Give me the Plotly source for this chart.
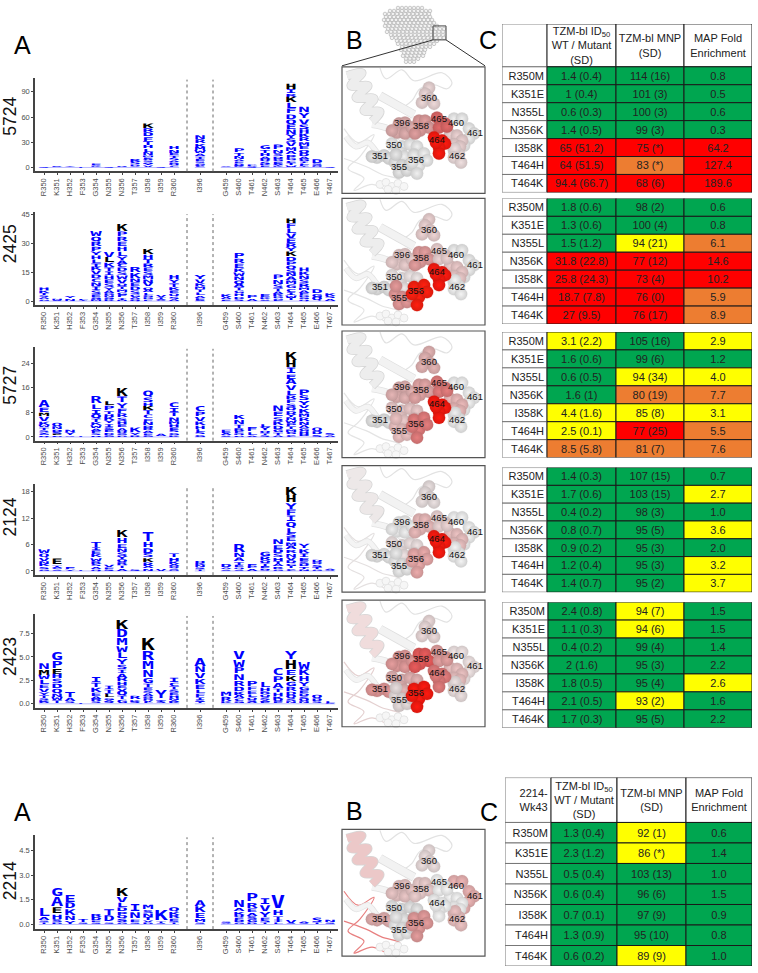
import re

import plotly.graph_objects as go

W, H = 758, 973

sites = ["R350", "K351", "H352", "F353", "G354", "N355", "N356", "T357", "I358", "I359", "R360",
         "I396",
         "G459", "S460", "T461", "N462", "S463", "T464", "T465", "E466", "T467"]
site_slots = [0, 1, 2, 3, 4, 5, 6, 7, 8, 9, 10, 12, 14, 15, 16, 17, 18, 19, 20, 21, 22]
mutants = {"R350": "M", "K351": "E", "N355": "L", "N356": "K", "I358": "K", "T464": "HK"}

# one string per site, letters top to bottom, "ABC2" = A, B, C each 2 tall
logo_5724 = ["S.5", "R.8", "Y1", "L.3", "E2 AK1", "S.3", "D1", "R4 S3 D2 A1",
             "K6 RDFT5 HLN4 MEAS2 QYV2", "S.5", "HN4 ETS3 ADQ2 C2",
             "NR5 KMW4 ATE3 SG2 QLC1",
             "A1", "P5 TN4 AED2 GQK1", "P2 AS.5", "G5 TH4 AQS3 KE2", "P6 NS4 DGE3 A2 TK1",
             "H7 I5 R4 K7 L7 F6 D6 Q6 E6 N6 Y5 S5 V5 M5 A4 P4 G3 C3 T3 W2",
             "N7 Y7 V6 S6 H5 K5 R5 M5 E4 Q4 D4 A3 G3 I2 L2 F2 T1", "D5 S2 G1 N1", "S.3"]
logo_2425 = ["H1.5 K1.5 T1.2 S1 A1 G.8", "N.8 S.6", "Y1.2 N1.2", "L.6 I.4",
             "W3 Q2.5 R2.5 P2.5 Y2 H2 L2 T2 K2 V2 D2 C2 N2 I2 S2 E1.5 G1 M1",
             "V3 L3 K2.5 T2 I2 H2 E2 S2 Y1.5 A1.5 D1 N1 G1 R1",
             "K3.5 P2.6 R2.5 E2.5 H2.5 L2.5 Y2 A2 C2 D2 S2 W2 V2 Q1.5 T1.5 M1.5 G1.5 F1.5 I1 N.6",
             "R3 K3 N2 E2 D2 S2 G1.5 A1 Q1",
             "K3 H2.5 T2.2 R2 E2 S2 M2 N2 V2 Q1.5 A1.5 L1.2 G1.2 D1 F.8",
             "V1.2 T1 A.6 S.5", "H2.4 Y2 T2 K1.7 E1.5 Q1.5 S1.2 A1",
             "Y2.4 V2 K1.6 M1.5 T1.5 L1.5 A1.2 E1 S.6",
             "K1.6 A1.2 E.8", "P3 R2.5 E2.5 K2 W2 N2 Q2 A2 T1.5 G1.5 H1.5 D1.2 S1", "P1.8 A1.2",
             "E1.8 K1 S.8", "P2.6 N2.4 S2 T1.5 A1.5 K1.2 D1 G.8 E.6",
             "H2.6 F2.6 L2.6 V2.6 E2.6 R2.2 Y2.2 K2.6 D2.4 P2 Q2 S2 N2 A2 M2 G2 C1.8 I1.6 W1.5 T1.5",
             "H2 K2 N2 S2 R2 M1.5 A1.5 E1.2 D1 G1 Q.8", "D2.2 G1.8 Q2", "K1.6 S1.2 A1.2"]
logo_5727 = ["A2.2 E1.6 M1.2 V1.6 K1.2 W.8 T.8 S.6 Y.6 G.6 Q.4", "Q1.2 N1 D.8 S.7 E.5 G.4",
             "N.8 Y1 S.3", "L.2", "R2.3 L1.7 I1.5 Q1.5 T1.2 K1 W1 A.8 E.8 S.6 D.4",
             "L1.4 P1.6 T1 H1 K1.2 Y1 I1 S1 E.9 D.7 G.6",
             "K2.7 T2 Y1.8 F1.6 R1.4 S1.2 H1 E1 A1 Q.8 G.6 D.5", "K1.7 Y.8 R.6",
             "Q2 S1.6 H1.2 K1.5 T1.4 C1.3 F1 N1.2 D.8 R.8 A.8 E.6 G.6", "A.8",
             "C1.7 I1.5 T1.4 N1.3 M1 H1 E.9 S.9 G.7 K.6",
             "C1.8 P1.6 V1.5 K1.3 H1.2 L1 S.8 G.7",
             "E1.2 A.7 S.5", "K1.5 N1.5 T1.2 R1 E.8 Q.6 G.4", "F1.5 L1 A.5", "L1 Y1.2 Q.8 T.6 S.6",
             "N2 E1.6 S1.4 K1.4 D1.2 G1 T.8 A.6",
             "K2.7 H2.3 I2 E1.6 A2 V1.8 L1.6 R1.3 F1.3 S1.2 Q1.1 D1 Y1.1 N1 W1 P1 T.9 M.9 G.8 C.7",
             "P2 S1.7 Y1.5 V1 K1.5 M1.3 R1.3 N1.2 A1 G1 H1 D.8", "Q1.3 D1 S.7", "S.7 A.6"]
logo_2124 = ["W1 Q.9 V.8 N.7 K.6 S.5 G.4", "E1.4 T.3 A.3 G.3 S.3", "F.5 Y.3", "L.1",
             "T1.3 I.7 E.9 K.8 W.7 R.7 S.6 A.5 Q.4", "V.6 E.4 S.4",
             "K1.7 H1.3 E1 N.9 S.9 Y.8 Q.7 R.7 T.6 A.5", "S.4",
             "T2.2 H1.3 D1.2 S1 K1 R.9 A.5 N.5", "V.5", "T.9 H.8 K.7 A.5 Q.5 S.3 N.2",
             "H.5 K.5 N.5 S.4 T.4",
             "D.8 A.4 S.3", "R2 N1.1 A.9 T.7 E.6 Q.4 S.3", "F.5 P.5 A.5", "G1.1 R.9 Q.7 T.6 E.5 D.3 S.2",
             "N1.2 E1 D1 S.9 H.8 T.7 A.6 R.5 G.4",
             "K1.9 H1.7 Y1.5 F1.4 I1.4 Q1.3 L1.2 S1 E1 M.9 A.9 R.8 N.8 V.7 D.7 G.6 T.6 C.5",
             "Y1.1 K1 I.9 E.8 S.7 D.6 T.5 N.4", "D.6 Q.5 S.5 T.5 G.4", "A.3 S.2"]
logo_2423 = ["N.7 M.6 W.5 L.5 E.4 V.4 Y.3 T.3 S.2 K.2 A.2", "G.9 P.8 E.6 H.5 S.5 D.5 Q.5 N.4 W.4 T.3",
             "T.6 A.4 S.2", "L.05", "I.6 T.5 K.5 E.4 A.3 R.3 S.2", "I.4 T.4 E.1 L.4 G.2 A.2 S.2",
             "K1.1 D.9 M.8 W.7 L.7 Y.6 S.5 I.4 A.5 R.4 H.4 E.3 V.3 Q.5 T.4 G.4", "R.4 K.2 S.2",
             "K1.4 R1.1 M.9 N.8 G.6 T.4 E.3 S.3 A.3 Q.2 D.2 V.2 L.2", "Y.9 T.2 S.2",
             "I.5 C.4 T.3 S.3 E.3 H.3 N.2 A.2 K.2",
             "A.9 N.7 V.6 K.6 E.5 L.4 F.4 I.3 S.2 T.2",
             "M.5 R.5 K.2", "V.9 W.8 P.7 N.7 R.6 D.5 K.4 A.4 C.3 G.2", "P.6 F.4 E.4 L.3 Q.3 S.2 A.2",
             "L.6 H.4 R.3 Q.3 S.3 A.2 E.2", "C.8 P.7 A.6 T.4 H.4 K.3 Q.3 E.2",
             "Y1 H1.1 E.6 K.6 G.5 R.5 D.4 Q.4 S.3 N.2", "W.8 K.7 H.6 Y.5 G.4 E.3 D.3 S.3 Q.3 N.2",
             "Q.4 D.3 S.2", "L.2 S.1"]
logo_2214 = ["L.55 A.2 S.1 T.1", "G.55 A.6 E.4 H.3 S.2 D.1", "E.45 D.4 K.4 N.3 Y.2", "T.2 S.1",
             "R.2 D.2 E.1 S.1", "T.4 D.4 S.1", "K.55 V.35 L.3 D.25 P.2 Q.2 S.15 A.1 G.1",
             "I.45 N.4 F.1 E.1 S.1", "M.3 S.2 N.25 T.2 V.1 D.1", "K.75 T.1 S.05",
             "Q.25 K.2 R.2 E.15 S.1 T.1",
             "A.4 K.4 E.35 M.2 S.1",
             "S.1 A.05", "N.45 A.2 K.2 Q.15 E.15 D.15 G.1", "P.55 R.35 E.25 A.2 S.2 G.2 D.1",
             "I.4 V.4 Y.35 E.15 S.15 T.1", "V.85 H.35 T.25 I.15 L.1", "V.2 S.05", "A.1 S.05",
             "S.3 T.1", "N.15 S.1"]

# (name, letters, ticks, tick text, axis top px, axis bottom px, zero px, px per unit)
logos = [
    ("5724", logo_5724, [0, 30, 60, 90], ["0", "30", "60", "90"], 76, 170, 166, 0.844),
    ("2425", logo_2425, [0, 15, 30, 45], ["0", "15", "30", "45"], 211, 304, 300, 1.93),
    ("5727", logo_5727, [0, 8, 16, 24], ["0", "8", "16", "24"], 346, 440, 436.3, 3.08),
    ("2124", logo_2124, [0, 6, 12, 18], ["0", "6", "12", "18"], 483, 575, 570.7, 4.41),
    ("2423", logo_2423, [0, 2.5, 5, 7.5], ["0.0", "2.5", "5.0", "7.5"], 614, 708, 704, 9.42),
    ("2214", logo_2214, [0, 1.5, 3, 4.5], ["0.0", "1.5", "3.0", "4.5"], 836, 930, 925.3, 16.5),
]
name_y = [115, 243, 385, 517, 657, 882]

row_labels = ["R350M", "K351E", "N355L", "N356K", "I358K", "T464H", "T464K"]
header_labels = ["TZM-bl ID<sub>50</sub><br>WT / Mutant<br>(SD)", "TZM-bl MNP<br>(SD)", "MAP Fold<br>Enrichment"]

id50_5724 = ["1.4 (0.4)", "1 (0.4)", "0.6 (0.3)", "1.4 (0.5)", "65 (51.2)", "64 (51.5)", "94.4 (66.7)"]
mnp_5724 = ["114 (16)", "101 (3)", "100 (3)", "99 (3)", "75 (*)", "83 (*)", "68 (6)"]
map_5724 = ["0.8", "0.5", "0.6", "0.3", "64.2", "127.4", "189.6"]
id50_2425 = ["1.8 (0.6)", "1.3 (0.6)", "1.5 (1.2)", "31.8 (22.8)", "25.8 (24.3)", "18.7 (7.8)", "27 (9.5)"]
mnp_2425 = ["98 (2)", "100 (4)", "94 (21)", "77 (12)", "73 (4)", "76 (0)", "76 (17)"]
map_2425 = ["0.6", "0.8", "6.1", "14.6", "10.2", "5.9", "8.9"]
id50_5727 = ["3.1 (2.2)", "1.6 (0.6)", "0.6 (0.5)", "1.6 (1)", "4.4 (1.6)", "2.5 (0.1)", "8.5 (5.8)"]
mnp_5727 = ["105 (16)", "99 (6)", "94 (34)", "80 (19)", "85 (8)", "77 (25)", "81 (7)"]
map_5727 = ["2.9", "1.2", "4.0", "7.7", "3.1", "5.5", "7.6"]
id50_2124 = ["1.4 (0.3)", "1.7 (0.6)", "0.4 (0.2)", "0.8 (0.7)", "0.9 (0.2)", "1.2 (0.4)", "1.4 (0.7)"]
mnp_2124 = ["107 (15)", "103 (15)", "98 (3)", "95 (5)", "95 (3)", "95 (3)", "95 (2)"]
map_2124 = ["0.7", "2.7", "1.0", "3.6", "2.0", "3.2", "3.7"]
id50_2423 = ["2.4 (0.8)", "1.1 (0.3)", "0.4 (0.2)", "2 (1.6)", "1.8 (0.5)", "2.1 (0.5)", "1.7 (0.3)"]
mnp_2423 = ["94 (7)", "94 (6)", "99 (4)", "95 (3)", "95 (4)", "93 (2)", "95 (5)"]
map_2423 = ["1.5", "1.5", "1.4", "2.2", "2.6", "1.6", "2.2"]
id50_2214 = ["1.3 (0.4)", "2.3 (1.2)", "0.5 (0.4)", "0.6 (0.4)", "0.7 (0.1)", "1.3 (0.9)", "0.6 (0.2)"]
mnp_2214 = ["92 (1)", "86 (*)", "103 (13)", "96 (6)", "97 (9)", "95 (10)", "89 (9)"]
map_2214 = ["0.6", "1.4", "1.0", "1.5", "0.9", "0.8", "1.0"]

# (id50, mnp, map, corner text, column edges px, top px, header bottom px or None, bottom px)
tables = [
    (id50_5724, mnp_5724, map_5724, "", [502, 547, 616, 684, 752], 22, 65, 191),
    (id50_2425, mnp_2425, map_2425, "", [502, 547, 616, 684, 752], 197, None, 323),
    (id50_5727, mnp_5727, map_5727, "", [502, 547, 616, 684, 752], 331, None, 457),
    (id50_2124, mnp_2124, map_2124, "", [502, 547, 616, 684, 752], 467, None, 592),
    (id50_2423, mnp_2423, map_2423, "", [502, 548, 616, 684, 752], 602, None, 728),
    (id50_2214, mnp_2214, map_2214, "2214-<br>Wk43", [505, 551, 617, 686, 752], 778, 823, 967),
]

GREEN, YELLOW, ORANGE, RED = "#00a650", "#ffff00", "#ed7d31", "#ff0000"


def fold_fill(text):
    val = float(text.split()[0])
    return GREEN if val < 2.5 else YELLOW if val < 5 else ORANGE if val < 10 else RED


def mnp_fill(text):
    val = float(text.split()[0])
    return GREEN if val >= 95 else YELLOW if val >= 85 else ORANGE if val >= 80 else RED


def xid(n):
    return "x" if n == 1 else "x%d" % n


def yid(n):
    return "y" if n == 1 else "y%d" % n


# structure panels: spheres of each residue, px from the panel's top left corner
residues = ["461", "460", "462", "360", "350", "351", "355", "396", "358", "465", "356", "464"]
atom_x = {"360": [87, 83, 88, 80, 92], "396": [57, 63, 55, 63, 70, 50], "358": [77, 83, 87, 78, 73],
          "465": [95, 103, 97, 105], "460": [108, 115, 120, 112, 118], "461": [112, 120, 127, 132, 127, 122],
          "462": [112, 117, 113, 112, 119], "464": [92, 100, 103, 97, 97, 94],
          "350": [50, 60, 68, 75, 58, 62, 72], "351": [35, 42, 47, 30], "355": [53, 60, 57, 65, 68, 54],
          "356": [72, 82, 77, 75, 70, 85]}
atom_y = {"360": [21, 27, 32, 36, 37], "396": [57, 56, 66, 67, 61, 64], "358": [54, 54, 61, 64, 67],
          "465": [51, 57, 61, 60], "460": [68, 69, 74, 78, 80], "461": [52, 52, 62, 67, 72, 79],
          "462": [84, 88, 82, 91, 96], "464": [71, 74, 77, 81, 87, 76],
          "350": [77, 80, 78, 80, 86, 90, 88], "351": [91, 89, 92, 90], "355": [96, 99, 106, 104, 98, 88],
          "356": [89, 87, 99, 107, 96, 94]}
label_x = {"360": 87, "396": 60, "358": 79, "465": 97, "460": 114, "461": 133, "462": 115,
           "464": 95, "350": 52, "351": 38, "355": 57, "356": 74}
label_y = {"360": 32, "396": 57, "358": 60, "465": 53, "460": 57, "461": 67, "462": 90,
           "464": 74, "350": 79, "351": 90, "355": 101, "356": 94}

# tops of the panels and the residue colours seen in each one
panel_top = [65, 197, 330, 465, 600, 830]
panel_left = 342
panel_colors = [
    {"360": "#eed9d9", "396": "#e2b0b0", "358": "#e2a0a0", "465": "#e26a6a", "460": "#eed4d4", "461": "#f0f0f0",
     "462": "#f0e0e0", "464": "#ff1a10", "350": "#f0f0f0", "351": "#e8e8e8", "355": "#e8e8e8", "356": "#f0f0f0"},
    {"360": "#eed4d4", "396": "#ecd0d0", "358": "#e6a0a0", "465": "#eed4d4", "460": "#eecccc", "461": "#f0f0f0",
     "462": "#f4f4f4", "464": "#ff1a10", "350": "#f0e8e8", "351": "#e8e8e8", "355": "#e69a9a", "356": "#ff2010"},
    {"360": "#e6b6b6", "396": "#e6b6b6", "358": "#e6a8a8", "465": "#e67e7e", "460": "#eebcbc", "461": "#f4f4f4",
     "462": "#f0f0f0", "464": "#ff1a10", "350": "#eecccc", "351": "#e8e8e8", "355": "#eec4c4", "356": "#e67e7e"},
    {"360": "#ece2e2", "396": "#f0f0f0", "358": "#ecbcbc", "465": "#eed6d6", "460": "#eec4c4", "461": "#f4f4f4",
     "462": "#f4f4f4", "464": "#ff1a10", "350": "#f0e4e4", "351": "#ececec", "355": "#ececec", "356": "#ecacac"},
    {"360": "#eedcdc", "396": "#e69e9e", "358": "#ea5c5c", "465": "#e6a2a2", "460": "#eec4c4", "461": "#f4e8e8",
     "462": "#eee2e2", "464": "#e67e7e", "350": "#e6b6b6", "351": "#e69a9a", "355": "#e8dede", "356": "#ff1a10"},
    {"360": "#eee0e0", "396": "#ecc8c8", "358": "#eed0d0", "465": "#f6f6f6", "460": "#f6f6f6", "461": "#eeb6b6",
     "462": "#eec4c4", "464": "#f6f6f6", "350": "#e8e8e8", "351": "#e6b2b2", "355": "#ececec", "356": "#e69e9e"},
]
helix_colors = ["#ededed", "#ededed", "#ededed", "#ede8e8", "#f0dcdc", "#ecc8c8"]
loop_colors = ["#e4e4e4", "#e4e4e4", "#e4e4e4", "#e4e0e0", "#e4d0d0", "#e88080"]

helix_x = [5, 20, 9, 26, 14, 32, 22, 38, 30]
helix_y = [9, 6, 19, 19, 31, 32, 44, 45, 55]
sheet_x = [38, 54, 72]
sheet_y = [29, 38, 48]
strand_x = [30, 46, 60]
strand_y = [58, 62, 72]
low_x = [4, 14, 26, 38, 50]
low_y = [70, 80, 76, 88, 84]
loop_top_x = [38, 44, 60, 72, 100, 110, 105, 92, 78, 70, 62]
loop_top_y = [1, 12, 3, 14, 6, 16, 22, 18, 22, 34, 40]
loop_low_x = [2, 16, 32, 18, 6, 22, 12, 30, 48, 58, 40, 24, 2]
loop_low_y = [62, 76, 68, 90, 102, 112, 124, 118, 124, 114, 108, 100, 92]
ball_x = [38, 44, 50, 56, 62, 46, 54]
ball_y = [118, 116, 120, 117, 120, 123, 124]

# whole trimer thumbnail: row y and its left and right ends, px
trimer_y = [6, 9, 12, 15, 18, 21, 24, 27, 30, 33, 36, 39, 42, 45, 48, 51, 54, 57, 60]
trimer_left = [398, 388, 385, 384, 384, 384, 385, 386, 387, 389, 392, 395, 398, 400, 401, 402, 403, 404, 406]
trimer_right = [425, 430, 432, 433, 434, 436, 438, 445, 445, 445, 445, 438, 434, 432, 428, 426, 424, 421, 417]

fig = go.Figure()

# logo plots
for i, (name, letters, ticks, tick_text, top, bottom, zero, scale) in enumerate(logos):
    ax = i + 1
    xs, ys, texts, sizes, colors = [], [], [], [], []
    for site, slot, col in zip(sites, site_slots, letters):
        tokens = [(l, float(v)) for ls, v in re.findall(r"([A-Z]+)([\d.]+)", col) for l in ls]
        level = sum(v for l, v in tokens)
        for letter, height in tokens:
            xs.append(slot)
            ys.append(level - height / 2)
            texts.append(letter)
            sizes.append(max(1, round(height * scale * 0.88 / 0.729, 2)))
            colors.append("#000000" if letter in mutants.get(site, "") else "#0000ff")
            level -= height
    fig.add_trace(go.Scatter(x=[-0.4, 10.4, None, 11.6, 12.4, None, 13.6, 22.4],
                             y=[0, 0, None, 0, 0, None, 0, 0],
                             mode="lines", line=dict(color="#a8a8ff", width=0.8),
                             xaxis=xid(ax), yaxis=yid(ax), hoverinfo="skip"))
    fig.add_trace(go.Scatter(x=xs, y=ys, text=texts, mode="text", textposition="middle center",
                             textfont=dict(family="DejaVu Sans Mono", weight="bold", size=sizes, color=colors),
                             xaxis=xid(ax), yaxis=yid(ax), cliponaxis=False, hoverinfo="skip"))
    fig.update_layout({
        "xaxis%d" % ax: dict(domain=[35 / W, 338 / W], range=[-9 / 13, 294 / 13], anchor=yid(ax),
                             tickvals=site_slots, ticktext=sites, tickangle=-90,
                             tickfont=dict(family="Liberation Sans", size=7.5, color="#4d4d4d"),
                             showgrid=False, zeroline=False, showline=True, linecolor="#444444", linewidth=1.5,
                             ticks="outside", ticklen=2, tickwidth=0.7, tickcolor="#444444"),
        "yaxis%d" % ax: dict(domain=[1 - bottom / H, 1 - top / H],
                             range=[(zero - bottom) / scale, (zero - top) / scale], anchor=xid(ax),
                             tickvals=ticks, ticktext=tick_text,
                             tickfont=dict(family="Liberation Sans", size=7.5, color="#4d4d4d"),
                             showgrid=False, zeroline=False, showline=True, linecolor="#444444", linewidth=1.5,
                             ticks="outside", ticklen=2, tickwidth=0.7, tickcolor="#444444"),
    })
    for slot in (11, 13):
        fig.add_shape(type="line", x0=slot, x1=slot, y0=0, y1=0.98, xref=xid(ax), yref=yid(ax) + " domain",
                      line=dict(color="#666666", width=1, dash="dot"))

# tables, one stacked bar per row
for i, (id50, mnp, fold, corner, edges, top, header_bottom, bottom) in enumerate(tables):
    ax = len(logos) + i + 1
    body_top = header_bottom if header_bottom else top
    row_h = (bottom - body_top) / len(row_labels)
    header_rows = (header_bottom - top) / row_h if header_bottom else 0
    rows = list(range(len(row_labels)))
    fills = [["#ffffff"] * len(rows), [fold_fill(t) for t in id50], [mnp_fill(t) for t in mnp],
             [fold_fill(t) for t in fold]]
    columns = [row_labels, id50, mnp, fold]
    for c, values in enumerate(columns):
        ys = list(rows)
        widths = [1] * len(rows)
        text = list(values)
        colors = list(fills[c])
        if header_bottom:
            ys = [-0.5 - header_rows / 2] + ys
            widths = [header_rows] + widths
            text = [corner if c == 0 else header_labels[c - 1]] + text
            colors = ["#ffffff"] + colors
        fig.add_trace(go.Bar(
            y=ys, x=[edges[c + 1] - edges[c]] * len(ys), base=edges[c], width=widths, orientation="h",
            text=text, textposition="inside", textangle=0, constraintext="none",
            insidetextanchor="end" if c == 0 else "middle",
            textfont=dict(family="Liberation Sans", size=11, color="#222222"),
            marker=dict(color=colors, line=dict(color="#777777" if c == 0 else "#1a1a1a", width=1)),
            cliponaxis=False, hoverinfo="skip", xaxis=xid(ax), yaxis=yid(ax)))
    fig.update_layout({
        "xaxis%d" % ax: dict(domain=[edges[0] / W, edges[-1] / W], range=[edges[0], edges[-1]],
                             visible=False, anchor=yid(ax)),
        "yaxis%d" % ax: dict(domain=[1 - bottom / H, 1 - top / H],
                             range=[len(rows) - 0.5, -0.5 - header_rows], visible=False, anchor=xid(ax)),
    })

# page-sized axes for the structure panels and panel letters
page = len(logos) + len(tables) + 1
page_axes = dict(xaxis=xid(page), yaxis=yid(page), hoverinfo="skip")
fig.update_layout({
    "xaxis%d" % page: dict(domain=[0, 1], range=[0, W], visible=False, anchor=yid(page)),
    "yaxis%d" % page: dict(domain=[0, 1], range=[H, 0], visible=False, anchor=xid(page)),
})

dots_x, dots_y = [], []
for n, (y, left, right) in enumerate(zip(trimer_y, trimer_left, trimer_right)):
    for x in range(left + (n % 2) * 2, right + 1, 4):
        dots_x.append(x)
        dots_y.append(y)
fig.add_trace(go.Scatter(x=dots_x, y=dots_y, mode="markers",
                         marker=dict(size=3.6, color="#f2f2f2", line=dict(color="#9a9a9a", width=0.5)), **page_axes))
fig.add_shape(type="rect", x0=433, x1=446, y0=24, y1=38, xref=xid(page), yref=yid(page),
              line=dict(color="#444444", width=1))
fig.add_shape(type="line", x0=342, x1=433, y0=64, y1=38, xref=xid(page), yref=yid(page),
              line=dict(color="#333333", width=1))
fig.add_shape(type="line", x0=485, x1=446, y0=64, y1=38, xref=xid(page), yref=yid(page),
              line=dict(color="#333333", width=1))


def shade(color, f):
    r, g, b = int(color[1:3], 16), int(color[3:5], 16), int(color[5:7], 16)
    return "rgb(%d,%d,%d)" % (r * f, g * f, b * f)


for top, colors, helix, loop in zip(panel_top, panel_colors, helix_colors, loop_colors):
    def shifted(xs, ys):
        return [panel_left + x for x in xs], [top + y for y in ys]

    for xs, ys, width, color in [
        (loop_top_x, loop_top_y, 1.2, "#e2e2e2"),
        (loop_low_x, loop_low_y, 1.2, loop),
        (low_x, low_y, 6, "#e2e2e2"),
        (low_x, low_y, 4.5, "#f4f4f4"),
        (strand_x, strand_y, 7, "#e2e2e2"),
        (strand_x, strand_y, 5.5, "#f4f4f4"),
        (sheet_x, sheet_y, 9, "#dedede"),
        (sheet_x, sheet_y, 7.5, "#f2f2f2"),
        (helix_x, helix_y, 9, "#d6d6d6"),
        (helix_x, helix_y, 7.5, helix),
    ]:
        px, py = shifted(xs, ys)
        fig.add_trace(go.Scatter(x=px, y=py, mode="lines", line=dict(color=color, width=width, shape="spline"),
                                 **page_axes))
    px, py = shifted(ball_x, ball_y)
    fig.add_trace(go.Scatter(x=px, y=py, mode="markers",
                             marker=dict(size=8, color="#f6f6f6", line=dict(color="#e0e0e0", width=0.8)), **page_axes))
    for res in residues:
        px, py = shifted(atom_x[res], atom_y[res])
        fig.add_trace(go.Scatter(x=px, y=py, mode="markers", marker=dict(
            size=12.5, color=shade(colors[res], 0.86), gradient=dict(type="radial", color=colors[res]),
            line=dict(color=shade(colors[res], 0.8), width=0.2)), **page_axes))
    px, py = shifted([label_x[r] for r in residues], [label_y[r] for r in residues])
    fig.add_trace(go.Scatter(x=px, y=py, text=residues, mode="text", textposition="middle center",
                             textfont=dict(family="Liberation Sans", size=9.5, color="#111111"), **page_axes))
    fig.add_shape(type="rect", x0=panel_left, x1=485, y0=top, y1=top + 127, xref=xid(page), yref=yid(page),
                  line=dict(color="#555555", width=1.2))

for (name, *_), y in zip(logos, name_y):
    fig.add_annotation(x=10, y=y, text=name, textangle=-90, showarrow=False, xref=xid(page), yref=yid(page),
                       font=dict(family="Liberation Sans", size=17.5, color="#111111"))
for letter, x, y in [("A", 22, 43), ("B", 354, 38), ("C", 488, 38), ("A", 22, 812), ("B", 354, 811), ("C", 489, 812)]:
    fig.add_annotation(x=x, y=y, text=letter, showarrow=False, xref=xid(page), yref=yid(page),
                       font=dict(family="Liberation Sans", size=25, color="#000000"))

fig.update_layout(width=W, height=H, margin=dict(l=0, r=0, t=0, b=0), showlegend=False, barmode="overlay",
                  plot_bgcolor="rgba(0,0,0,0)", paper_bgcolor="#ffffff", hovermode=False)

# letters in a sequence logo are stretched to the column width whatever their height
stretch = """
document.body.style.margin = '0';
document.querySelectorAll('.textpoint text').forEach(function (t) {
  if (t.style.fontFamily.indexOf('Mono') < 0) return;
  var fs = parseFloat(t.style.fontSize);
  var w = Math.min(15, 11.5 + Math.max(0, fs - 9) * 0.35);
  t.setAttribute('textLength', w);
  t.setAttribute('lengthAdjust', 'spacingAndGlyphs');
});
"""
fig.write_html("out.html", config=dict(displayModeBar=False), post_script=stretch)
